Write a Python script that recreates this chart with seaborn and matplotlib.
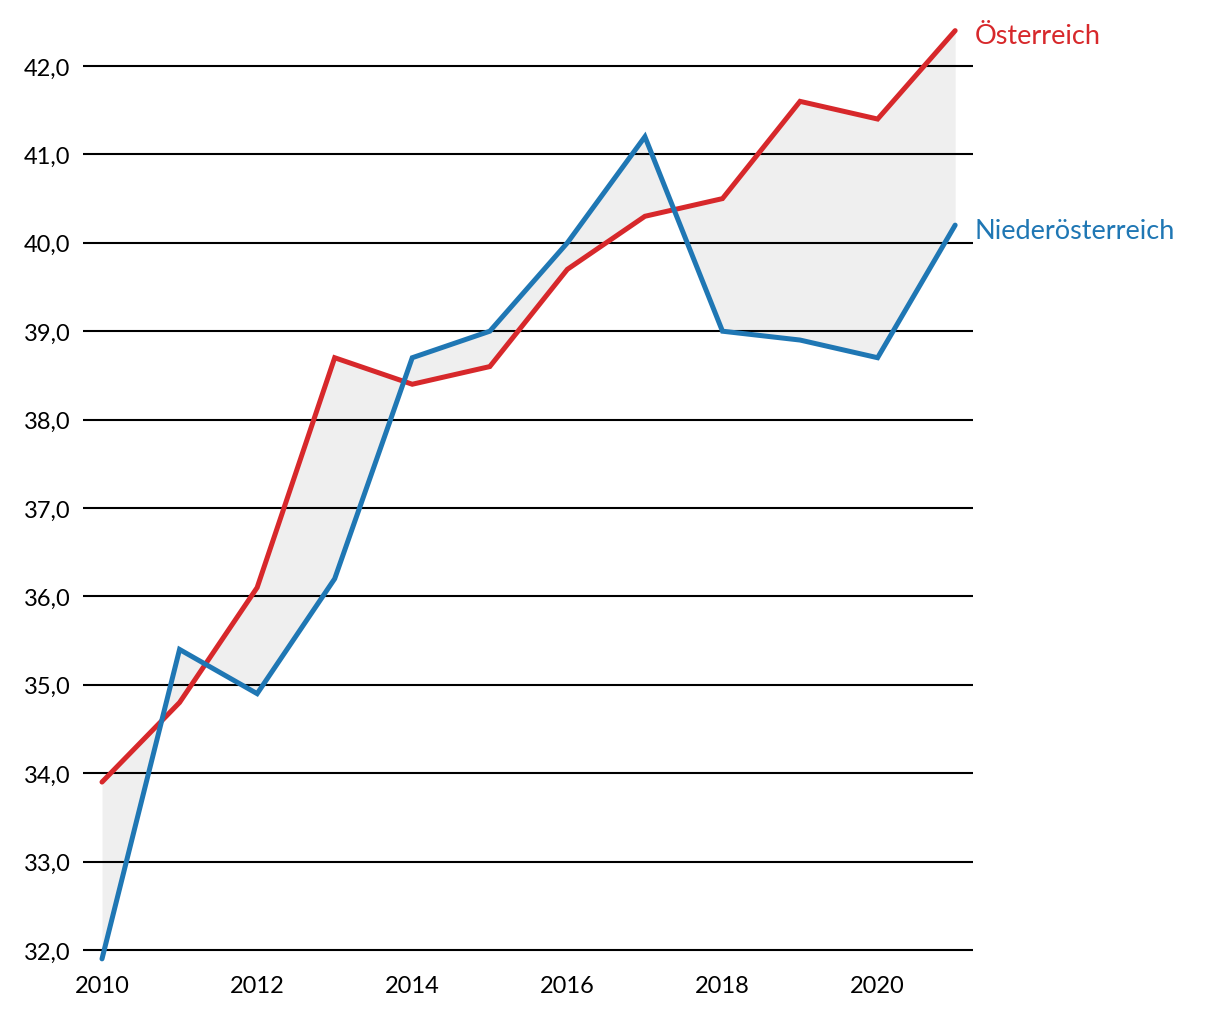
import numpy as np
import pandas as pd
import matplotlib.pyplot as plt
import seaborn as sns

# Data
years = list(range(2010, 2022))
oesterreich = [33.9, 34.8, 36.1, 38.7, 38.4, 38.6, 39.7, 40.3, 40.5, 41.6, 41.4, 42.4]
niederoesterreich = [31.9, 35.4, 34.9, 36.2, 38.7, 39.0, 40.0, 41.2, 39.0, 38.9, 38.7, 40.2]
series_names = ["Österreich", "Niederösterreich"]
series_colors = ["#d7282b", "#1f77b4"]

df = pd.DataFrame({
    "year": years * 2,
    "value": oesterreich + niederoesterreich,
    "region": [series_names[0]] * len(years) + [series_names[1]] * len(years),
})

sns.set_style("white")
plt.rcParams["font.family"] = ["Lato", "DejaVu Sans"]

fig = plt.figure(figsize=(12.2, 10.2), dpi=100)
ax = fig.add_axes([83 / 1220, (1020 - 968.7) / 1020, 890 / 1220, 945.9 / 1020])

# gap between the two series
ax.fill_between(years, oesterreich, niederoesterreich, color="#efefef", lw=0, zorder=1)

# horizontal grid
for y in range(32, 43):
    ax.axhline(y, color="black", lw=1.5, zorder=2)

sns.lineplot(data=df, x="year", y="value", hue="region", palette=series_colors,
             hue_order=series_names, lw=3.6, legend=False, ax=ax, zorder=3)
for line in ax.lines[-2:]:
    line.set_solid_capstyle("round")
    line.set_solid_joinstyle("miter")

# end labels
for name, vals, col in zip(series_names, [oesterreich, niederoesterreich], series_colors):
    ax.text(years[-1] + 0.25, vals[-1] - 0.06, name, color=col, fontsize=19.5,
            va="center", ha="left", clip_on=False)

ax.set_xlim(2009.755, 2021.23)
ax.set_ylim(31.8, 42.5)
ax.set_xticks(range(2010, 2021, 2))
ax.set_yticks(range(32, 43))
ax.set_yticklabels([f"{v},0" for v in range(32, 43)])
ax.tick_params(axis="both", length=0, labelsize=17, colors="black")
ax.tick_params(axis="y", pad=9)
ax.tick_params(axis="x", pad=5)
ax.set_xlabel("")
ax.set_ylabel("")
sns.despine(ax=ax, left=True, bottom=True)

fig.savefig("out.png", dpi=100, facecolor="white")
